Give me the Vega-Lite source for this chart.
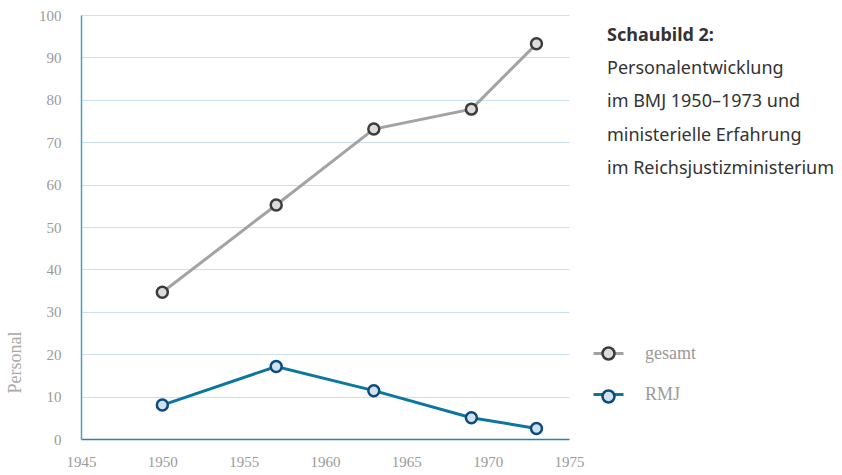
{
  "$schema": "https://vega.github.io/schema/vega-lite/v6.json",
  "width": 488,
  "height": 424,
  "autosize": {"type": "none"},
  "padding": {"left": 81, "top": 15, "right": 273, "bottom": 36},
  "background": "white",
  "config": {
    "view": {"stroke": null},
    "axis": {
      "labelFont": "Liberation Serif",
      "labelFontSize": 15,
      "labelColor": "#9a9a9a",
      "ticks": false,
      "titleFont": "Liberation Serif",
      "titleFontWeight": "normal",
      "titleFontSize": 18,
      "titleColor": "#a8a8a8"
    },
    "legend": {
      "labelFont": "Liberation Serif",
      "labelFontSize": 18,
      "labelColor": "#9a9a9a"
    }
  },
  "title": {
    "text": "Schaubild 2:",
    "subtitle": ["Personalentwicklung", "im BMJ 1950–1973 und", "ministerielle Erfahrung", "im Reichsjustizministerium"],
    "orient": "top",
    "anchor": "start",
    "frame": "group",
    "align": "left",
    "baseline": "top",
    "offset": 0,
    "dx": 526,
    "dy": 170,
    "font": "Noto Sans",
    "fontSize": 18,
    "fontWeight": "bold",
    "color": "#333333",
    "subtitleFont": "Noto Sans",
    "subtitleFontSize": 18,
    "subtitleColor": "#333333",
    "subtitleLineHeight": 33.5,
    "subtitlePadding": 15
  },
  "data": {
    "values": [
      {"jahr": 1950, "personal": 34.6, "serie": "gesamt"},
      {"jahr": 1957, "personal": 55.2, "serie": "gesamt"},
      {"jahr": 1963, "personal": 73.1, "serie": "gesamt"},
      {"jahr": 1969, "personal": 77.8, "serie": "gesamt"},
      {"jahr": 1973, "personal": 93.2, "serie": "gesamt"},
      {"jahr": 1950, "personal": 8, "serie": "RMJ"},
      {"jahr": 1957, "personal": 17.1, "serie": "RMJ"},
      {"jahr": 1963, "personal": 11.4, "serie": "RMJ"},
      {"jahr": 1969, "personal": 5, "serie": "RMJ"},
      {"jahr": 1973, "personal": 2.5, "serie": "RMJ"}
    ]
  },
  "encoding": {
    "x": {
      "field": "jahr",
      "type": "quantitative",
      "scale": {"domain": [1945, 1975], "nice": false, "zero": false},
      "axis": {
        "title": null,
        "values": [1945, 1950, 1955, 1960, 1965, 1970, 1975],
        "format": "d",
        "grid": false,
        "labelFlush": false,
        "labelPadding": 15,
        "domainColor": "#2c80a8",
        "domainWidth": 1.5
      }
    },
    "y": {
      "field": "personal",
      "type": "quantitative",
      "scale": {"domain": [0, 100], "nice": false},
      "axis": {
        "title": "Personal",
        "values": [0, 10, 20, 30, 40, 50, 60, 70, 80, 90, 100],
        "grid": true,
        "gridColor": "#c9e2ed",
        "gridWidth": 1,
        "domainColor": "#4aa0c2",
        "domainWidth": 1.5,
        "labelPadding": 20,
        "titleX": -66,
        "titleY": 347,
        "titleAlign": "center",
        "titleBaseline": "middle",
        "titleAngle": -90
      }
    }
  },
  "layer": [
    {
      "mark": {"type": "line", "strokeWidth": 3},
      "encoding": {
        "color": {
          "field": "serie",
          "type": "nominal",
          "scale": {"domain": ["gesamt", "RMJ"], "range": ["#a3a3a3", "#0b77a1"]},
          "legend": {
            "title": null,
            "orient": "none",
            "legendX": 511,
            "legendY": 322,
            "symbolType": "M -1 0 L 1 0",
            "symbolSize": 900,
            "symbolStrokeWidth": 3,
            "labelOffset": 20,
            "rowPadding": 15
          }
        }
      }
    },
    {
      "mark": {"type": "point", "shape": "circle", "filled": true, "size": 120, "strokeWidth": 2.5, "opacity": 1},
      "encoding": {
        "fill": {
          "field": "serie",
          "type": "nominal",
          "sort": "descending",
          "scale": {"range": ["#dcdcdc", "#cfe2ee"]},
          "legend": {
            "title": null,
            "orient": "none",
            "legendX": 511,
            "legendY": 322,
            "symbolType": "M -0.4 0 A 0.4 0.4 0 1 1 0.4 0 A 0.4 0.4 0 1 1 -0.4 0 Z",
            "symbolSize": 900,
            "symbolStrokeWidth": 2.5,
            "labelOffset": 20,
            "rowPadding": 15,
            "labelExpr": "''"
          }
        },
        "stroke": {
          "field": "serie",
          "type": "nominal",
          "sort": "descending",
          "scale": {"range": ["#3c3c3c", "#0b4a7e"]},
          "legend": {
            "title": null,
            "orient": "none",
            "legendX": 511,
            "legendY": 322,
            "symbolType": "M -0.4 0 A 0.4 0.4 0 1 1 0.4 0 A 0.4 0.4 0 1 1 -0.4 0 Z",
            "symbolSize": 900,
            "symbolStrokeWidth": 2.5,
            "labelOffset": 20,
            "rowPadding": 15,
            "labelExpr": "''"
          }
        }
      }
    }
  ]
}
